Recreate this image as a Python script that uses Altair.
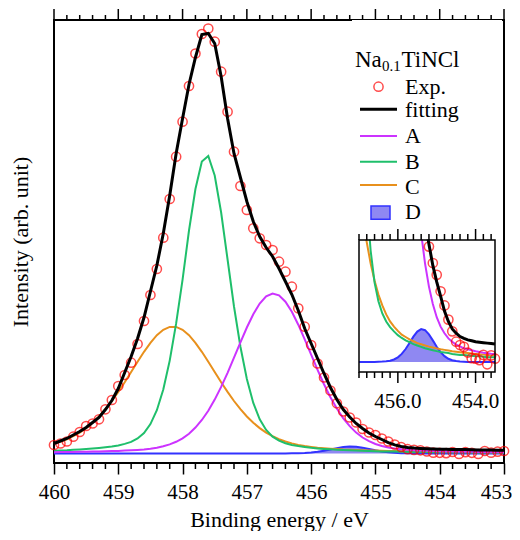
import altair as alt
import pandas as pd

# ---------------- data ----------------
energy = [460.0, 459.9, 459.8, 459.7, 459.6, 459.5, 459.4, 459.3, 459.2, 459.1,
          459.0, 458.9, 458.8, 458.7, 458.6, 458.5, 458.4, 458.3, 458.2, 458.1,
          458.0, 457.9, 457.8, 457.7, 457.6, 457.5, 457.4, 457.3, 457.2, 457.1,
          457.0, 456.9, 456.8, 456.7, 456.6, 456.5, 456.4, 456.3, 456.2, 456.1,
          456.0, 455.9, 455.8, 455.7, 455.6, 455.5, 455.4, 455.3, 455.2, 455.1,
          455.0, 454.9, 454.8, 454.7, 454.6, 454.5, 454.4, 454.3, 454.2, 454.1,
          454.0, 453.9, 453.8, 453.7, 453.6, 453.5, 453.4, 453.3, 453.2, 453.1,
          453.0]

exp_counts = [8.5, 10.0, 12.0, 16.8, 21.5, 27.5, 30.0, 34.2, 44.2, 53.5,
              67.5, 78.5, 90.8, 109.5, 132.5, 158.5, 184.5, 215.8, 254.5, 296.8,
              331.8, 367.5, 400.0, 419.5, 425.0, 411.8, 381.8, 341.8, 301.8, 267.5,
              243.5, 225.2, 215.2, 208.5, 203.5, 191.8, 181.8, 166.8, 145.2, 126.8,
              108.5, 90.0, 76.0, 63.0, 50.2, 42.0, 36.0, 31.0, 24.5, 21.0,
              18.5, 15.0, 12.0, 9.0, 6.5, 4.3, 3.6, 3.2, 2.0, 0.8,
              0.7, 0.4, 1.5, -0.5, 1.4, 0.7, -0.5, 2.5, 0.8, 1.8,
              2.5]

fit_counts = [10.0, 12.5, 15.0, 18.5, 22.0, 26.0, 31.0, 36.0, 44.0, 53.0,
              65.0, 81.0, 97.0, 115.0, 136.0, 162.0, 188.0, 220.0, 258.0, 300.0,
              335.0, 369.0, 396.0, 419.0, 420.0, 410.0, 377.0, 335.0, 300.0, 276.0,
              252.0, 232.0, 217.0, 206.0, 197.0, 185.0, 172.0, 159.0, 143.0, 125.0,
              110.0, 95.0, 80.0, 66.0, 54.0, 44.0, 36.5, 30.0, 25.0, 20.5,
              17.0, 14.0, 10.8, 8.6, 7.0, 6.1, 5.4, 5.0, 4.7, 4.5,
              4.3, 4.2, 4.1, 4.0, 3.9, 3.8, 3.6, 3.5, 3.4, 3.3,
              3.2]

peak_A = [1.35, 1.43, 1.51, 1.61, 1.71, 1.82, 1.95, 2.08, 2.23, 2.40,
          2.6, 2.9, 3.2, 3.6, 4.1, 4.8, 5.8, 7.2, 9.1, 11.7,
          15.2, 19.8, 25.9, 33.5, 42.8, 53.9, 66.6, 80.7, 95.8, 111.2,
          126.0, 139.3, 150.0, 157.2, 160.0, 158.1, 151.8, 141.7, 128.8, 114.2,
          98.9, 83.7, 69.3, 56.3, 44.9, 35.2, 27.3, 20.9, 16.0, 12.3,
          9.5, 7.5, 6.1, 5.0, 4.3, 3.7, 3.3, 2.9, 2.7, 2.5,
          2.27, 2.11, 1.97, 1.85, 1.73, 1.63, 1.53, 1.44, 1.36, 1.29,
          1.22]

peak_B = [2.8, 3.1, 3.3, 3.7, 4.0, 4.4, 4.9, 5.5, 6.2, 7.0,
          8.1, 9.6, 11.6, 15.1, 20.5, 29.4, 43.3, 64.0, 92.9, 130.1,
          173.9, 223.0, 264.5, 292.0, 297.5, 278.0, 241.0, 194.0, 147.0, 106.8,
          74.5, 50.6, 34.2, 23.6, 16.9, 12.9, 10.3, 8.6, 7.4, 6.5,
          5.7, 5.1, 4.6, 4.2, 3.8, 3.5, 3.2, 2.9, 2.7, 2.5,
          2.3, 2.1, 2.0, 1.9, 1.7, 1.6, 1.5, 1.5, 1.4, 1.3,
          1.2, 1.2, 1.1, 1.0, 1.0, 1.0, 0.9, 0.9, 0.8, 0.8,
          0.8]

peak_C = [10.1, 12.0, 14.3, 17.3, 20.9, 25.4, 30.7, 37.0, 44.3, 52.5,
          61.6, 71.3, 81.5, 91.8, 101.7, 110.7, 118.3, 123.7, 126.6, 126.6,
          123.7, 118.3, 110.7, 101.7, 91.8, 81.5, 71.3, 61.6, 52.5, 44.3,
          37.0, 30.7, 25.4, 20.9, 17.3, 14.3, 12.0, 10.1, 8.6, 7.5,
          6.6, 5.8, 5.3, 4.8, 4.4, 4.0, 3.75, 3.5, 3.26, 3.06,
          2.89, 2.72, 2.57, 2.43, 2.30, 2.19, 2.08, 1.97, 1.88, 1.79,
          1.71, 1.63, 1.56, 1.49, 1.43, 1.37, 1.32, 1.26, 1.22, 1.17,
          1.13]

peak_D = [0, 0, 0, 0, 0, 0, 0, 0, 0, 0,
          0, 0, 0, 0, 0, 0, 0, 0, 0, 0,
          0, 0, 0, 0, 0, 0, 0, 0, 0, 0,
          0, 0, 0, 0, 0, 0.07, 0.10, 0.16, 0.28, 0.53,
          0.98, 1.71, 2.75, 4.03, 5.37, 6.46, 6.99, 6.75, 5.86, 4.58,
          3.24, 2.09, 1.24, 0.68, 0.37, 0.20, 0.12, 0.07, 0, 0,
          0, 0, 0, 0, 0, 0, 0, 0, 0, 0,
          0]

major_ticks = [460, 459, 458, 457, 456, 455, 454, 453]
minor_ticks = [459.8, 459.6, 459.4, 459.2, 458.8, 458.6, 458.4, 458.2,
               457.8, 457.6, 457.4, 457.2, 456.8, 456.6, 456.4, 456.2,
               455.8, 455.6, 455.4, 455.2, 454.8, 454.6, 454.4, 454.2,
               453.8, 453.6, 453.4, 453.2]
inset_major = [456.0, 454.0]
inset_labels = ["456.0", "454.0"]
inset_minor = [457.0, 456.8, 456.6, 456.4, 456.2, 455.8, 455.6, 455.4,
               455.2, 455.0, 454.8, 454.6, 454.4, 454.2, 453.8, 453.6]

legend_title = ["Na", "0.1", "TiNCl"]
legend_labels = ["Exp.", "fitting", "A", "B", "C", "D"]

# ---------------- styling ----------------
FONT = "Liberation Serif"
BLACK = "#000000"
RED = "#ff0000"
MAGENTA = "#cc33ff"
GREEN = "#1fbf6b"
ORANGE = "#e8901c"
BLUE = "#3232ff"
BLUE_FILL = "#8f88f2"
W, H = 450, 443

df = pd.DataFrame({"E": energy, "exp": exp_counts, "fit": fit_counts,
                   "A": peak_A, "B": peak_B, "C": peak_C, "D": peak_D})
ins = df[(df["E"] >= 453.5) & (df["E"] <= 457.0)].reset_index(drop=True)

x_axis = alt.Axis(values=major_ticks, tickSize=11, tickWidth=1.5, tickColor=BLACK,
                  domain=False, grid=False, labelFont=FONT, labelFontSize=21,
                  labelColor=BLACK, labelPadding=7, labelFlush=False,
                  labelOverlap=False,
                  labelOffset={"condition": {"test": "datum.value == 453", "value": -8},
                               "value": 0},
                  title="Binding energy / eV", titleFont=FONT,
                  titleFontSize=22, titleFontWeight="normal", titleColor=BLACK,
                  titlePadding=7)
y_axis = alt.Axis(labels=False, ticks=False, domain=False, grid=False,
                  title="Intensity (arb. unit)", titleFont=FONT, titleFontSize=22,
                  titleFontWeight="normal", titleColor=BLACK, titlePadding=22)

xs = alt.Scale(domain=[453, 460], reverse=True, nice=False, zero=False)
ys = alt.Scale(domain=[-9.5, 433.5], nice=False, zero=False)


def mx():
    return alt.X("E:Q", scale=xs, axis=x_axis)


def my(f):
    return alt.Y(f"{f}:Q", scale=ys, axis=y_axis)


base = alt.Chart(df)
main_layers = [
    base.mark_area(color=BLUE_FILL, opacity=1).encode(x=mx(), y=my("D"), y2=alt.datum(0)),
    base.mark_line(color=BLUE, strokeWidth=2).encode(x=mx(), y=my("D")),
    base.mark_line(color=ORANGE, strokeWidth=2).encode(x=mx(), y=my("C")),
    base.mark_line(color=GREEN, strokeWidth=2).encode(x=mx(), y=my("B")),
    base.mark_line(color=MAGENTA, strokeWidth=2).encode(x=mx(), y=my("A")),
    base.mark_point(shape="circle", filled=False, color=RED, size=85, strokeWidth=1.5)
        .encode(x=mx(), y=my("exp")),
    base.mark_line(color=BLACK, strokeWidth=3).encode(x=mx(), y=my("fit")),
]
maj = alt.Chart(pd.DataFrame({"E": major_ticks}))
mnr = alt.Chart(pd.DataFrame({"E": minor_ticks}))
main_layers += [
    mnr.mark_rule(color=BLACK, strokeWidth=1.5).encode(x=mx(), y=alt.value(H), y2=alt.value(H + 6)),
    maj.mark_rule(color=BLACK, strokeWidth=1.5).encode(x=mx(), y=alt.value(-11), y2=alt.value(0)),
    mnr.mark_rule(color=BLACK, strokeWidth=1.5).encode(x=mx(), y=alt.value(-5), y2=alt.value(0)),
]
main = alt.layer(*main_layers)

# ---------------- inset ----------------
ixs = alt.Scale(domain=[453.5, 457.0], range=[441, 305], nice=False, zero=False)
iys = alt.Scale(domain=[-2.13, 25.9], range=[352, 220], nice=False, zero=False)


def ix():
    return alt.X("E:Q", scale=ixs, axis=None)


def iy(f):
    return alt.Y(f"{f}:Q", scale=iys, axis=None)


ib = alt.Chart(ins)
imaj = alt.Chart(pd.DataFrame({"E": inset_major, "label": inset_labels}))
imnr = alt.Chart(pd.DataFrame({"E": inset_minor}))
one = alt.Chart(pd.DataFrame({"k": [0]}))
inset = alt.layer(
    ib.mark_area(color=BLUE_FILL, opacity=1, clip=True).encode(x=ix(), y=iy("D"), y2=alt.datum(0)),
    ib.mark_line(color=BLUE, strokeWidth=2, clip=True).encode(x=ix(), y=iy("D")),
    ib.mark_line(color=ORANGE, strokeWidth=2, clip=True).encode(x=ix(), y=iy("C")),
    ib.mark_line(color=GREEN, strokeWidth=2, clip=True).encode(x=ix(), y=iy("B")),
    ib.mark_line(color=MAGENTA, strokeWidth=2, clip=True).encode(x=ix(), y=iy("A")),
    ib.mark_point(shape="circle", filled=False, color=RED, size=85, strokeWidth=1.5, clip=True)
        .encode(x=ix(), y=iy("exp")),
    ib.mark_line(color=BLACK, strokeWidth=3, clip=True).encode(x=ix(), y=iy("fit")),
    # white mask above the inset box (hides the parts of the inset curves that leave it)
    one.mark_rect(color="white").encode(x=alt.value(298), x2=alt.value(448),
                                         y=alt.value(0), y2=alt.value(219.5)),
    one.mark_rect(fillOpacity=0, stroke=BLACK, strokeWidth=1.5)
        .encode(x=alt.value(305), x2=alt.value(441), y=alt.value(220), y2=alt.value(352)),
    imaj.mark_rule(color=BLACK, strokeWidth=1.5).encode(x=ix(), y=alt.value(352), y2=alt.value(363)),
    imnr.mark_rule(color=BLACK, strokeWidth=1.5).encode(x=ix(), y=alt.value(352), y2=alt.value(358)),
    imaj.mark_rule(color=BLACK, strokeWidth=1.5).encode(x=ix(), y=alt.value(209), y2=alt.value(220)),
    imnr.mark_rule(color=BLACK, strokeWidth=1.5).encode(x=ix(), y=alt.value(214), y2=alt.value(220)),
    imaj.mark_text(font=FONT, fontSize=21, align="center", baseline="alphabetic", color=BLACK)
        .encode(x=ix(), y=alt.value(388), text="label:N"),
)

# ---------------- legend ----------------
def ltext(label, x, y, size=22):
    return alt.Chart(pd.DataFrame({"label": [label]})).mark_text(
        font=FONT, fontSize=size, align="left", baseline="alphabetic", color=BLACK
    ).encode(x=alt.value(x), y=alt.value(y), text="label:N")


def lline(color, y, width):
    return one.mark_rule(color=color, strokeWidth=width).encode(
        x=alt.value(306), x2=alt.value(343), y=alt.value(y))


TX = 351
legend = [
    ltext(legend_title[0], 301, 46.7, 23),
    ltext(legend_title[1], 328, 50.5, 15),
    ltext(legend_title[2], 347.5, 46.7, 23),
    one.mark_point(shape="circle", filled=False, color=RED, size=85, strokeWidth=1.5)
        .encode(x=alt.value(324.5), y=alt.value(66.7)),
    ltext(legend_labels[0], TX, 74),
    lline(BLACK, 89.3, 3),
    ltext(legend_labels[1], TX, 96.7),
    lline(MAGENTA, 116, 2),
    ltext(legend_labels[2], TX, 123.3),
    lline(GREEN, 141.7, 2),
    ltext(legend_labels[3], TX, 149),
    lline(ORANGE, 165, 2),
    ltext(legend_labels[4], TX, 174),
    one.mark_rect(fill=BLUE_FILL, stroke=BLUE, strokeWidth=1.5)
        .encode(x=alt.value(317), x2=alt.value(336), y=alt.value(186), y2=alt.value(199.3)),
    ltext(legend_labels[5], TX, 199.3),
]

chart = alt.layer(main, inset, *legend).resolve_scale(
    x="independent", y="independent"
).properties(
    width=W, height=H,
    padding={"left": 46, "top": 12, "right": 8, "bottom": 68},
    autosize=alt.AutoSizeParams(type="none"),
).configure(font=FONT).configure_view(stroke=BLACK, strokeWidth=2)

chart.save("out.html", embed_options={"renderer": "svg", "actions": False})
